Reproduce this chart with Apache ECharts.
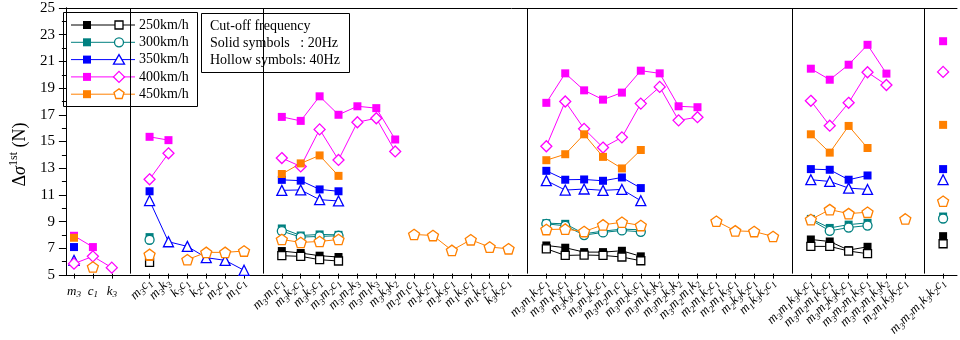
<!DOCTYPE html>
<html>
<head>
<meta charset="utf-8">
<script src="https://cdn.jsdelivr.net/npm/echarts@6/dist/echarts.min.js"></script>
<style>
  html, body { margin: 0; padding: 0; background: #fff; }
  #chart { width: 960px; height: 340px; }
</style>
</head>
<body>
<div id="chart"></div>
<script>
const FONT = 'Liberation Serif';

// Parameter combinations, one list per group (separated by vertical lines)
const group1 = ['m3', 'c1', 'k3'];
const group2 = ['m3c1', 'm3k3', 'k3c1', 'k2c1', 'm2c1', 'm1c1'];
const group3 = ['m3m1c1', 'm3k2c1', 'm3k3c1', 'm3m2c1', 'm3m2k3', 'm3m1k3', 'm3k3k2',
                'm2m1c1', 'm2k2c1', 'm2k3c1', 'm1k3c1', 'm1k2c1', 'k3k2c1'];
const group4 = ['m3m1k2c1', 'm3m1k3c1', 'm3k3k2c1', 'm3m2k2c1', 'm3m2m1c1', 'm3m2k3c1', 'm3m1k3k2',
                'm3m2k3k2', 'm3m2m1k2', 'm2m1k2c1', 'm2m1k3c1', 'm2k3k2c1', 'm1k3k2c1'];
const group5 = ['m3m1k3k2c1', 'm3m2m1k2c1', 'm3m2k3k2c1', 'm3m2m1k3c1', 'm3m2m1k3k2', 'm2m1k3k2c1'];
const group6 = ['m3m2m1k3k2c1'];
const groups = [group1, group2, group3, group4, group5, group6];

// Speeds and cut-off frequency legends
const speeds = ['250km/h', '300km/h', '350km/h', '400km/h', '450km/h'];
const infoLines = ['Cut-off frequency', 'Solid symbols   : 20Hz', 'Hollow symbols: 40Hz'];

// Δσ values (N), per group; solid = 20 Hz, hollow = 40 Hz
const _ = null;
const v250Solid  = [[_, _, _], [6.05], [6.7, 6.55, 6.35, 6.25], [7.12, 6.95, 6.62, 6.62, 6.72, 6.3], [7.57, 7.42, 6.77, 7.02], [7.82]];
const v250Hollow = [[_, _, _], [5.85], [6.35, 6.3, 6.05, 5.95], [6.87, 6.37, 6.4, 6.37, 6.25, 5.97], [7.05, 7.05, 6.7, 6.5], [7.25]];
const v300Solid  = [[_, _, _], [7.75], [8.4, 7.87, 7.95, 7.92], [8.8, 8.75, 8.0, 8.2, 8.35, 8.3], [9.12, 8.44, 8.69, 8.82], [9.3]];
const v300Hollow = [[_, _, _], [7.55], [8.2, 7.75, 7.8, 7.85], [8.75, 8.6, 7.9, 8.1, 8.25, 8.15], [9.04, 8.22, 8.47, 8.62], [9.15]];
const v350Solid  = [[7.0], [11.2], [12.06, 12.0, 11.34, 11.2], [12.74, 12.07, 12.09, 11.99, 12.24, 11.44], [12.87, 12.82, 12.07, 12.39], [12.87]];
const v350Hollow = [[6.0], [10.5, 7.4, 7.05, 6.2, 6.0, 5.25], [11.27, 11.3, 10.57, 10.47], [12.0, 11.29, 11.37, 11.27, 11.34, 10.49], [12.07, 11.94, 11.44, 11.34], [12.07]];
const v400Solid  = [[7.85, 7.0], [15.3, 15.05], [16.8, 16.5, 18.35, 16.96, 17.6, 17.46, 15.1],
                    [17.86, 20.08, 18.8, 18.1, 18.63, 20.28, 20.08, 17.6, 17.53], [20.43, 19.6, 20.73, 22.23, 20.06], [22.5]];
const v400Hollow = [[5.75, 6.3, 5.45], [12.1, 14.06], [13.7, 13.07, 15.86, 13.56, 16.4, 16.7, 14.2],
                    [14.59, 17.96, 15.9, 14.49, 15.26, 17.8, 19.06, 16.54, 16.78], [18.01, 16.14, 17.86, 20.16, 19.2], [20.19]];
const v450Solid  = [[7.7], [6.25], [12.5, 13.3, 13.9, 12.36], [13.54, 13.99, 15.49, 13.79, 12.92, 14.31], [15.49, 14.11, 16.12, 14.46], [16.2]];
const v450Hollow = [[_, 5.5, _], [6.45, _, 6.05, 6.6, 6.6, 6.7],
                    [7.57, 7.35, 7.42, 7.57, _, _, _, 7.95, 7.87, 6.75, 7.55, 7.0, 6.87],
                    [8.32, 8.35, 8.17, 8.67, 8.87, 8.62, _, _, _, 8.95, 8.22, 8.17, 7.8],
                    [9.07, 9.82, 9.52, 9.62, _, 9.12], [10.45]];

const solidSets = [v250Solid, v300Solid, v350Solid, v400Solid, v450Solid];
const hollowSets = [v250Hollow, v300Hollow, v350Hollow, v400Hollow, v450Hollow];

// ---------- styling ----------
const colors = ['#000000', '#008080', '#0000ff', '#ff00ff', '#ff8000'];
const pentagon = 'path://M0,-1L0.951,-0.309L0.588,0.809L-0.588,0.809L-0.951,-0.309Z';
const hollowSymbols = ['rect', 'circle', 'triangle', 'diamond', pentagon];
const hollowSizes = [8, 9, 10, 11, 11];

// Category list with an empty slot between groups (where the divider lines go)
const categories = [];
const separators = [];
groups.forEach((g, i) => {
  if (i > 0) { const s = '|' + i; categories.push(s); separators.push(s); }
  g.forEach(c => categories.push(c));
});
const firstGroupSize = group1.length;

function flatten(set) {
  const out = [];
  groups.forEach((g, i) => {
    if (i > 0) out.push(null);
    for (let k = 0; k < g.length; k++) out.push(set[i][k] === undefined ? null : set[i][k]);
  });
  return out;
}

// "m3k2c1" -> italic letters with subscript digits
function subLabel(v) {
  if (v.charAt(0) === '|') return '';
  return v.replace(/([a-z])(\d)/g, '{b|$1}{s|$2}');
}
const labelRich = {
  b: { fontFamily: FONT, fontStyle: 'italic', fontSize: 13, color: '#000' },
  s: { fontFamily: FONT, fontStyle: 'italic', fontSize: 9, color: '#000', padding: [8, 0, 0, 0] }
};

const series = [];
speeds.forEach((sp, i) => {
  series.push({
    name: sp + ' 20Hz', type: 'line', xAxisIndex: 2, yAxisIndex: 2,
    data: flatten(solidSets[i]), connectNulls: false, symbol: 'rect', symbolSize: 8, showAllSymbol: true,
    lineStyle: { color: colors[i], width: 1 }, itemStyle: { color: colors[i] },
    emphasis: { disabled: true }, animation: false
  });
  series.push({
    name: sp + ' 40Hz', type: 'line', xAxisIndex: 2, yAxisIndex: 2,
    data: flatten(hollowSets[i]), connectNulls: false,
    symbol: hollowSymbols[i], symbolSize: hollowSizes[i], symbolKeepAspect: true, showAllSymbol: true,
    lineStyle: { color: colors[i], width: 1 },
    itemStyle: { color: '#fff', borderColor: colors[i], borderWidth: 1.3 },
    emphasis: { disabled: true }, animation: false
  });
});
// divider lines between parameter groups
series[0].markLine = {
  silent: true, symbol: ['none', 'none'], animation: false,
  label: { show: false },
  lineStyle: { color: '#000', width: 1, type: 'solid' },
  data: separators.map(s => ({ xAxis: s }))
};

// ---------- legend & info box (graphic) ----------
function legendSymbol(kind, x, y, color, hollow) {
  const style = hollow ? { fill: '#fff', stroke: color, lineWidth: 1.3 } : { fill: color };
  if (kind === 'rect') return { type: 'rect', shape: { x: x - 4, y: y - 4, width: 8, height: 8 }, style };
  if (kind === 'circle') return { type: 'circle', shape: { cx: x, cy: y, r: 4.5 }, style };
  if (kind === 'triangle') return { type: 'polygon', shape: { points: [[x, y - 5], [x + 5.5, y + 4.5], [x - 5.5, y + 4.5]] }, style };
  if (kind === 'diamond') return { type: 'polygon', shape: { points: [[x, y - 5.5], [x + 5.5, y], [x, y + 5.5], [x - 5.5, y]] }, style };
  const pts = [];
  for (let k = 0; k < 5; k++) {
    const a = -Math.PI / 2 + k * 2 * Math.PI / 5;
    pts.push([x + 5.3 * Math.cos(a), y + 5.3 * Math.sin(a)]);
  }
  return { type: 'polygon', shape: { points: pts }, style };
}
const legendChildren = [
  { type: 'rect', shape: { x: 63.5, y: 12.5, width: 134, height: 94 }, style: { fill: '#fff', stroke: '#000', lineWidth: 1 } }
];
speeds.forEach((sp, i) => {
  const y = 25 + i * 17.3;
  legendChildren.push({ type: 'line', shape: { x1: 71, y1: y, x2: 135, y2: y }, style: { stroke: colors[i], lineWidth: 1 } });
  legendChildren.push(legendSymbol('rect', 87, y, colors[i], false));
  legendChildren.push(legendSymbol(i === 4 ? 'pentagon' : hollowSymbols[i], 119, y, colors[i], true));
  legendChildren.push({ type: 'text', style: { x: 139, y: y, text: sp, font: '14px "Liberation Serif"', fill: '#000', verticalAlign: 'middle' } });
});
const infoChildren = [
  { type: 'rect', shape: { x: 201.5, y: 13.5, width: 148, height: 59 }, style: { fill: '#fff', stroke: '#000', lineWidth: 1 } }
];
infoLines.forEach((t, i) => {
  infoChildren.push({ type: 'text', style: { x: 210, y: 26 + i * 17.4, text: t, font: '14px "Liberation Serif"', fill: '#000', verticalAlign: 'middle' } });
});

const chart = echarts.init(document.getElementById('chart'), null, { renderer: 'canvas' });
chart.setOption({
  animation: false,
  backgroundColor: '#fff',
  grid: [
    { left: 58, right: 3, top: 8, bottom: 65 },          // frame
    { left: 64.55, right: 7.45, top: 8, bottom: 65 }     // data
  ],
  xAxis: [
    { gridIndex: 0, type: 'value', min: 0, max: 1, position: 'bottom',
      axisLine: { show: true, lineStyle: { color: '#000', width: 1 } },
      axisTick: { show: false }, axisLabel: { show: false }, splitLine: { show: false } },
    { gridIndex: 0, type: 'value', min: 0, max: 1, position: 'top',
      axisLine: { show: true, lineStyle: { color: '#000', width: 1 } },
      axisTick: { show: false }, axisLabel: { show: false }, splitLine: { show: false } },
    // rotated labels for the combined-parameter groups
    { gridIndex: 1, type: 'category', data: categories, boundaryGap: true, position: 'bottom',
      axisLine: { show: false },
      axisTick: { show: true, alignWithLabel: true, inside: false, length: 5,
                  interval: (idx, v) => v.charAt(0) !== '|', lineStyle: { color: '#000' } },
      axisLabel: { interval: 0, rotate: 45, margin: 7, hideOverlap: false,
                   formatter: (v, idx) => idx < firstGroupSize ? '' : subLabel(v),
                   rich: labelRich },
      splitLine: { show: false } },
    // upright labels for the single parameters
    { gridIndex: 1, type: 'category', data: categories, boundaryGap: true, position: 'bottom',
      axisLine: { show: false }, axisTick: { show: false },
      axisLabel: { interval: 0, rotate: 0, margin: 9, hideOverlap: false,
                   formatter: (v, idx) => idx < firstGroupSize ? subLabel(v) : '',
                   rich: labelRich },
      splitLine: { show: false } }
  ],
  yAxis: [
    { gridIndex: 0, type: 'value', min: 5, max: 25, interval: 2, position: 'left',
      name: '{d|Δ}{i|σ}{sup|1st}{d| (N)}', nameLocation: 'middle', nameGap: 27,
      nameTextStyle: { padding: [0, 26, 0, 0], rich: {
        d: { fontFamily: FONT, fontSize: 18, color: '#000' },
        i: { fontFamily: FONT, fontStyle: 'italic', fontSize: 18, color: '#000' },
        sup: { fontFamily: FONT, fontSize: 12, color: '#000', padding: [0, 0, 12, 0] }
      } },
      axisLine: { show: true, lineStyle: { color: '#000', width: 1 } },
      axisTick: { show: true, inside: false, length: 7, lineStyle: { color: '#000' } },
      minorTick: { show: true, splitNumber: 2, length: 4, lineStyle: { color: '#000' } },
      axisLabel: { fontFamily: FONT, fontSize: 15, color: '#000', margin: 11 },
      splitLine: { show: false } },
    { gridIndex: 0, type: 'value', min: 5, max: 25, interval: 2, position: 'right',
      axisLine: { show: true, lineStyle: { color: '#000', width: 1 } },
      axisTick: { show: true, inside: true, length: 5, lineStyle: { color: '#000' } },
      minorTick: { show: true, splitNumber: 2, length: 3, lineStyle: { color: '#000' } },
      axisLabel: { show: false }, splitLine: { show: false } },
    { gridIndex: 1, type: 'value', min: 5, max: 25, show: false, splitLine: { show: false } }
  ],
  series: series,
  graphic: [
    { type: 'group', z: 100, children: legendChildren },
    { type: 'group', z: 100, children: infoChildren }
  ]
});
</script>
</body>
</html>
